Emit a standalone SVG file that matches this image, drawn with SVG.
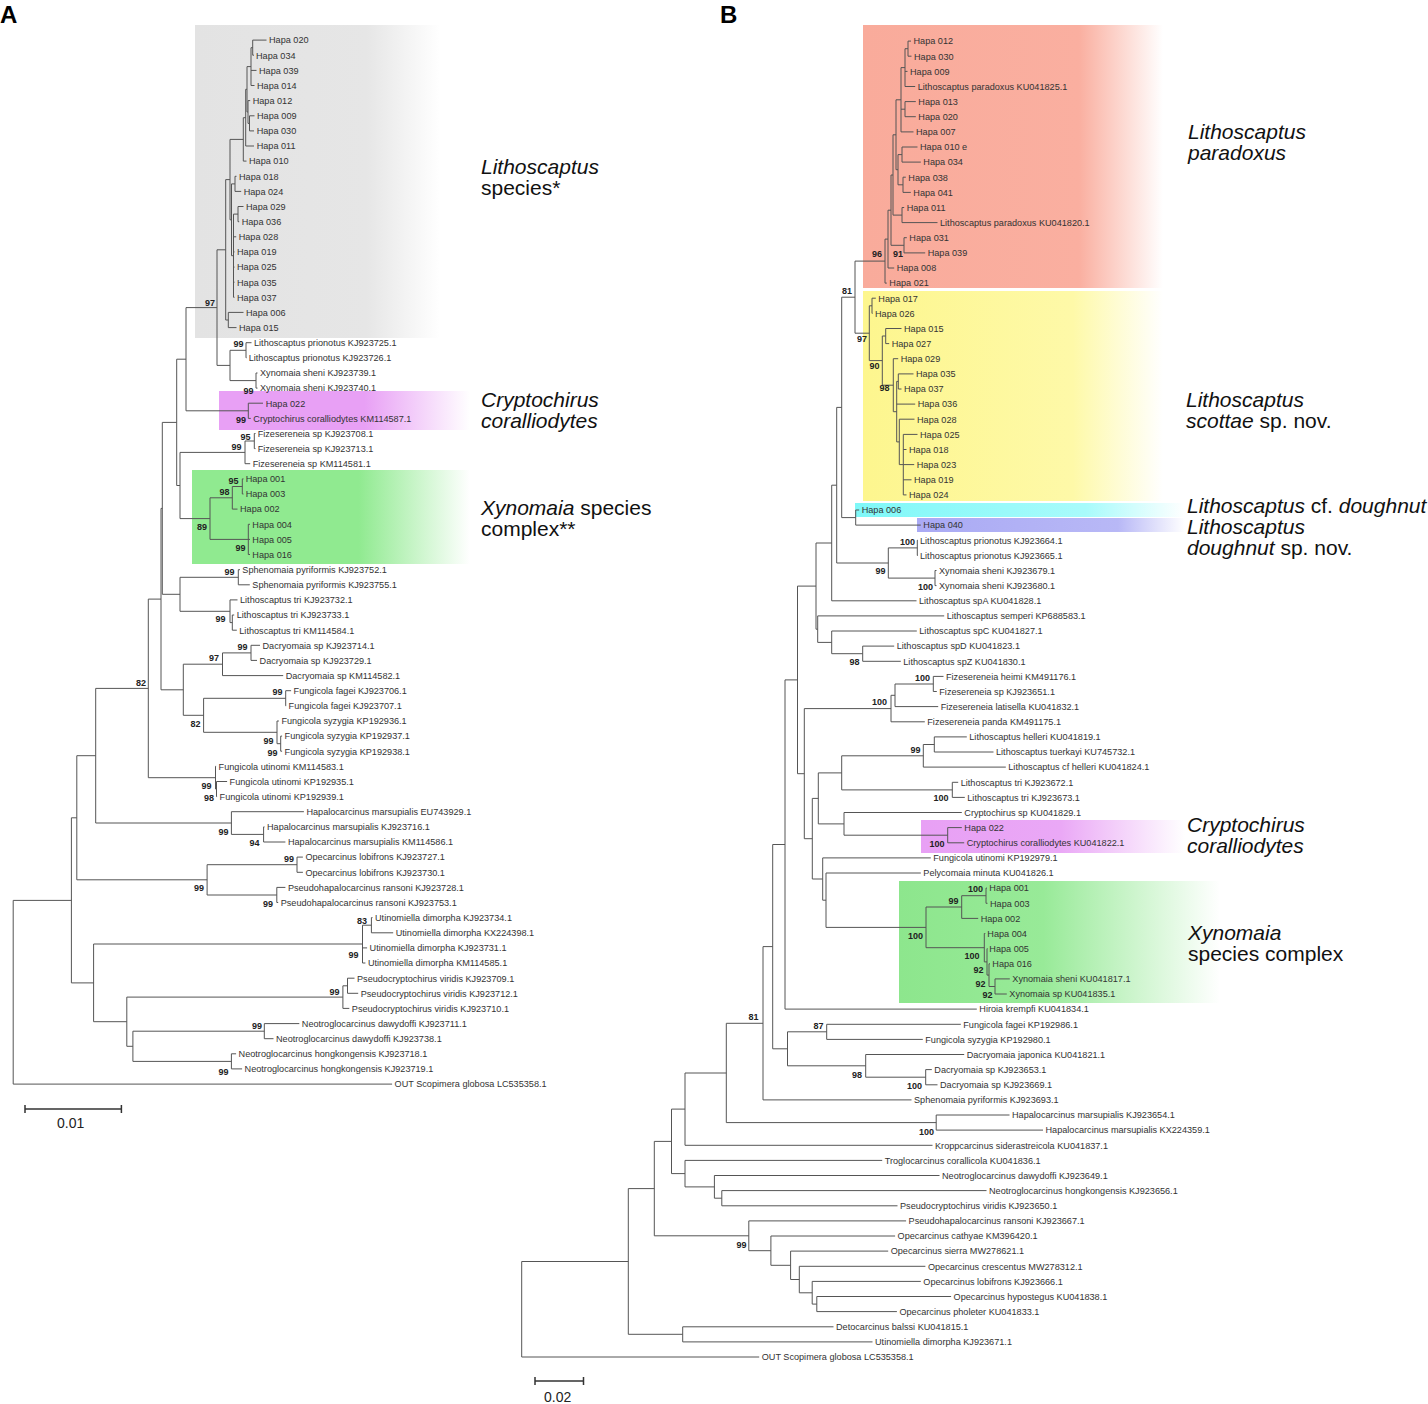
<svg xmlns="http://www.w3.org/2000/svg" width="1428" height="1404" viewBox="0 0 1428 1404">
<style>
.br{fill:none;stroke:#555;stroke-width:1}
.t{font-family:"Liberation Sans",Arial,sans-serif;font-size:9.15px;fill:#333}
.s{font-family:"Liberation Sans",Arial,sans-serif;font-size:9px;font-weight:bold;fill:#222;text-anchor:end}
.g{font-family:"Liberation Sans",Arial,sans-serif;font-size:21px;fill:#111}
.i{font-style:italic}
.p{font-family:"Liberation Sans",Arial,sans-serif;font-size:24px;font-weight:bold;fill:#000}
.sc{font-family:"Liberation Sans",Arial,sans-serif;font-size:14px;fill:#222}
.bar{fill:none;stroke:#333;stroke-width:1.5}
</style>
<defs>
<linearGradient id="gGray" x1="0" x2="1" y1="0" y2="0"><stop offset="0" stop-color="#e3e3e3"/><stop offset="0.7" stop-color="#e6e6e6"/><stop offset="1" stop-color="#fff"/></linearGradient>
<linearGradient id="gPinkA" x1="0" x2="1" y1="0" y2="0"><stop offset="0" stop-color="#e8a0f5"/><stop offset="0.58" stop-color="#e8a0f5"/><stop offset="1" stop-color="#fff"/></linearGradient>
<linearGradient id="gGreenA" x1="0" x2="1" y1="0" y2="0"><stop offset="0" stop-color="#90ea90"/><stop offset="0.6" stop-color="#90ea90"/><stop offset="1" stop-color="#fff"/></linearGradient>
<linearGradient id="gSalmon" x1="0" x2="1" y1="0" y2="0"><stop offset="0" stop-color="#f9ab9b"/><stop offset="0.72" stop-color="#faafa0"/><stop offset="1" stop-color="#fff"/></linearGradient>
<linearGradient id="gYellow" x1="0" x2="1" y1="0" y2="0"><stop offset="0" stop-color="#fdf68e"/><stop offset="0.7" stop-color="#fef9a8"/><stop offset="1" stop-color="#fff"/></linearGradient>
<linearGradient id="gCyan" x1="0" x2="1" y1="0" y2="0"><stop offset="0" stop-color="#7ff8f8"/><stop offset="0.7" stop-color="#a8fbfb"/><stop offset="1" stop-color="#fff"/></linearGradient>
<linearGradient id="gLav" x1="0" x2="1" y1="0" y2="0"><stop offset="0" stop-color="#aaaaf4"/><stop offset="0.75" stop-color="#b8b8f6"/><stop offset="1" stop-color="#fff"/></linearGradient>
<linearGradient id="gPinkB" x1="0" x2="1" y1="0" y2="0"><stop offset="0" stop-color="#e8a0f5"/><stop offset="0.53" stop-color="#eaa8f6"/><stop offset="1" stop-color="#fff"/></linearGradient>
<linearGradient id="gGreenB" x1="0" x2="1" y1="0" y2="0"><stop offset="0" stop-color="#8de68d"/><stop offset="0.45" stop-color="#98ea98"/><stop offset="1" stop-color="#fff"/></linearGradient>
</defs>
<rect width="1428" height="1404" fill="#fff"/>
<g id="clade-highlights">
<rect x="195" y="25" width="245" height="313" fill="url(#gGray)"/>
<rect x="219" y="391" width="251" height="39" fill="url(#gPinkA)"/>
<rect x="192" y="470" width="278" height="94" fill="url(#gGreenA)"/>
<rect x="863" y="25" width="300" height="263" fill="url(#gSalmon)"/>
<rect x="863" y="291" width="300" height="210" fill="url(#gYellow)"/>
<rect x="855" y="503" width="330" height="14" fill="url(#gCyan)"/>
<rect x="917" y="518" width="268" height="14" fill="url(#gLav)"/>
<rect x="921" y="820" width="264" height="33" fill="url(#gPinkB)"/>
<rect x="899" y="881" width="321" height="122" fill="url(#gGreenB)"/>
</g>
<g id="connectors" class="br">
<path d="M252.7 40.1V55.2M252.7 40.1H266.5M252.7 55.2H254"/>
<path d="M251 47.7V85.5M251 47.7H252.7M251 70.4H256.5M251 85.5H254.5"/>
<path d="M249.5 115.8V130.9M249.5 115.8H254.5M249.5 130.9H254"/>
<path d="M248 100.6V123.4M248 100.6H250.2M248 123.4H249.5"/>
<path d="M247 66.6V112M247 66.6H251M247 112H248"/>
<path d="M245.7 89.3V146M245.7 89.3H247M245.7 146H254"/>
<path d="M243.3 117.7V161.1M243.3 117.7H245.7M243.3 161.1H246.5"/>
<path d="M235 176.3V191.4M235 176.3H236.5M235 191.4H241.2"/>
<path d="M238 206.5V221.7M238 206.5H243.5M238 221.7H239.2"/>
<path d="M233.5 214.1V297.3M233.5 214.1H238M233.5 236.8H236.2M233.5 251.9H234.5M233.5 267.1H234.5M233.5 282.2H234.5M233.5 297.3H234.5"/>
<path d="M231.5 183.9V255.7M231.5 183.9H235M231.5 255.7H233.5"/>
<path d="M230 139.4V219.8M230 139.4H243.3M230 219.8H231.5"/>
<path d="M228.3 312.4V327.6M228.3 312.4H243.5M228.3 327.6H236.5"/>
<path d="M225.7 179.6V320M225.7 179.6H230M225.7 320H228.3"/>
<path d="M246 342.7V357.8M246 342.7H251.5M246 357.8H246.5"/>
<path d="M256 373V388.1M256 373H257.5M256 388.1H257.5"/>
<path d="M230 350.3V380.6M230 350.3H246M230 380.6H256"/>
<path d="M217 249.8V365.4M217 249.8H225.7M217 365.4H230"/>
<path d="M248.3 403.2V418.4M248.3 403.2H263M248.3 418.4H250.8"/>
<path d="M186 307.6V410.8M186 307.6H217M186 410.8H248.3"/>
<path d="M254.3 433.5V448.6M254.3 433.5H255.5M254.3 448.6H255.5"/>
<path d="M245 441V463.7M245 441H254.3M245 463.7H250.2"/>
<path d="M242.3 478.9V494M242.3 478.9H243.5M242.3 494H243.5"/>
<path d="M232.3 486.5V509.1M232.3 486.5H242.3M232.3 509.1H237.5"/>
<path d="M248.3 524.3V554.5M248.3 524.3H250M248.3 539.4H250M248.3 554.5H250"/>
<path d="M210 497.8V539.4M210 497.8H232.3M210 539.4H248.3"/>
<path d="M180 452.4V518.6M180 452.4H245M180 518.6H210"/>
<path d="M176.7 359.2V485.5M176.7 359.2H186M176.7 485.5H180"/>
<path d="M238.3 569.7V584.8M238.3 569.7H240M238.3 584.8H249.8"/>
<path d="M232.3 615V630.2M232.3 615H234.2M232.3 630.2H236.8"/>
<path d="M230 599.9V622.6M230 599.9H237.5M230 622.6H232.3"/>
<path d="M180 577.3V611.3M180 577.3H238.3M180 611.3H230"/>
<path d="M162.3 422.4V594.3M162.3 422.4H176.7M162.3 594.3H180"/>
<path d="M251 645.3V660.4M251 645.3H260M251 660.4H257"/>
<path d="M222.5 652.9V675.6M222.5 652.9H251M222.5 675.6H283.2"/>
<path d="M285.7 690.7V705.8M285.7 690.7H291.1M285.7 705.8H286.1"/>
<path d="M280.7 736.1V751.2M280.7 736.1H282.1M280.7 751.2H282.1"/>
<path d="M277 721V743.7M277 721H278.9M277 743.7H280.7"/>
<path d="M203.6 698.3V732.3M203.6 698.3H285.7M203.6 732.3H277"/>
<path d="M183.3 664.2V715.3M183.3 664.2H222.5M183.3 715.3H203.6"/>
<path d="M161 508.4V689.8M161 508.4H162.3M161 689.8H183.3"/>
<path d="M216.5 781.5V796.6M216.5 781.5H227.1M216.5 796.6H217.1"/>
<path d="M215.5 766.3V789M215.5 766.3H216.1M215.5 789H216.5"/>
<path d="M148.3 599.1V777.7M148.3 599.1H161M148.3 777.7H215.5"/>
<path d="M263.6 826.9V842M263.6 826.9H264.5M263.6 842H285.4"/>
<path d="M231.4 811.7V834.4M231.4 811.7H303.9M231.4 834.4H263.6"/>
<path d="M95.7 688.4V823M95.7 688.4H148.3M95.7 823H231.4"/>
<path d="M297 857.1V872.3M297 857.1H302.9M297 872.3H302.9"/>
<path d="M276.8 887.4V902.5M276.8 887.4H285.4M276.8 902.5H278.2"/>
<path d="M207.1 864.7V895M207.1 864.7H297M207.1 895H276.8"/>
<path d="M76.8 755.7V879.8M76.8 755.7H95.7M76.8 879.8H207.1"/>
<path d="M371.4 917.6V932.8M371.4 917.6H372.5M371.4 932.8H393.2"/>
<path d="M362.5 925.2V963M362.5 925.2H371.4M362.5 947.9H367.1M362.5 963H365.4"/>
<path d="M347.5 978.2V993.3M347.5 978.2H354.5M347.5 993.3H358.2"/>
<path d="M342.9 985.8V1008.4M342.9 985.8H347.5M342.9 1008.4H349.3"/>
<path d="M264.3 1023.6V1038.7M264.3 1023.6H299.3M264.3 1038.7H273.5"/>
<path d="M231.4 1053.8V1068.9M231.4 1053.8H236.1M231.4 1068.9H242.1"/>
<path d="M132.9 1031.2V1061.4M132.9 1031.2H264.3M132.9 1061.4H231.4"/>
<path d="M126.8 997.1V1046.3M126.8 997.1H342.9M126.8 1046.3H132.9"/>
<path d="M93.6 944V1021.7M93.6 944H362.5M93.6 1021.7H126.8"/>
<path d="M71.4 817.8V982.9M71.4 817.8H76.8M71.4 982.9H93.6"/>
<path d="M13.2 900.4V1084.1M13.2 900.4H71.4M13.2 1084.1H392.1"/>
<path d="M908 41.1V56.2M908 41.1H911M908 56.2H911.5"/>
<path d="M905 48.7V86.5M905 48.7H908M905 71.4H907.5M905 86.5H915.2"/>
<path d="M905 101.6V116.7M905 101.6H915.8M905 116.7H915.8"/>
<path d="M901 67.6V131.9M901 67.6H905M901 109.2H905M901 131.9H913.5"/>
<path d="M902 147V162.1M902 147H917.5M902 162.1H920.8"/>
<path d="M903 177.2V192.4M903 177.2H905.8M903 192.4H910.8"/>
<path d="M898 154.6V184.8M898 154.6H902M898 184.8H903"/>
<path d="M896 99.8V169.7M896 99.8H901M896 169.7H898"/>
<path d="M902 207.5V222.6M902 207.5H904.2M902 222.6H937.5"/>
<path d="M893 134.8V215.1M893 134.8H896M893 215.1H902"/>
<path d="M904 237.7V252.9M904 237.7H906.8M904 252.9H925.2"/>
<path d="M891 175V245.3M891 175H893M891 245.3H904"/>
<path d="M888 210.2V268M888 210.2H891M888 268H894.2"/>
<path d="M885 239.1V283.1M885 239.1H888M885 283.1H886.8"/>
<path d="M872 298.2V313.4M872 298.2H875.8M872 313.4H872.5"/>
<path d="M885.7 328.5V343.6M885.7 328.5H901.5M885.7 343.6H889.2"/>
<path d="M898.3 373.9V389M898.3 373.9H913.5M898.3 389H901.5"/>
<path d="M903.3 434.4V494.9M903.3 434.4H917.5M903.3 449.5H906.5M903.3 464.6H914.2M903.3 479.8H911.5M903.3 494.9H906.5"/>
<path d="M899.3 419.2V464.6M899.3 419.2H914.5M899.3 464.6H903.3"/>
<path d="M896.7 381.4V441.9M896.7 381.4H898.3M896.7 404.1H915.2M896.7 441.9H899.3"/>
<path d="M893.3 358.7V411.7M893.3 358.7H898.2M893.3 411.7H896.7"/>
<path d="M882.3 336V385.2M882.3 336H885.7M882.3 385.2H893.3"/>
<path d="M869.3 305.8V360.6M869.3 305.8H872M869.3 360.6H882.3"/>
<path d="M855 261.1V333.2M855 261.1H885M855 333.2H869.3"/>
<path d="M855.7 510V525.1M855.7 510H859.2M855.7 525.1H920.8"/>
<path d="M841.7 297.2V517.6M841.7 297.2H855M841.7 517.6H855.7"/>
<path d="M917.3 540.3V555.4M917.3 540.3H918M917.3 555.4H918"/>
<path d="M935 570.5V585.6M935 570.5H936.5M935 585.6H936.5"/>
<path d="M888.3 547.9V578.1M888.3 547.9H917.3M888.3 578.1H935"/>
<path d="M836.7 407.4V563M836.7 407.4H841.7M836.7 563H888.3"/>
<path d="M831.7 485.2V600.8M831.7 485.2H836.7M831.7 600.8H916.5"/>
<path d="M862.7 646.1V661.3M862.7 646.1H894.2M862.7 661.3H900.8"/>
<path d="M831.7 631V653.7M831.7 631H916.8M831.7 653.7H862.7"/>
<path d="M817.7 615.9V642.4M817.7 615.9H944.2M817.7 642.4H831.7"/>
<path d="M816 543V629.2M816 543H831.7M816 629.2H817.7"/>
<path d="M933.3 676.4V691.5M933.3 676.4H943.5M933.3 691.5H936.8"/>
<path d="M895 684V706.6M895 684H933.3M895 706.6H938.2"/>
<path d="M891 695.3V721.8M891 695.3H895M891 721.8H924.8"/>
<path d="M934.3 736.9V752M934.3 736.9H966.8M934.3 752H993.5"/>
<path d="M923.3 744.5V767.1M923.3 744.5H934.3M923.3 767.1H1005.8"/>
<path d="M952.3 782.3V797.4M952.3 782.3H958.2M952.3 797.4H964.8"/>
<path d="M841.7 755.8V789.9M841.7 755.8H923.3M841.7 789.9H952.3"/>
<path d="M947.7 827.6V842.8M947.7 827.6H961.8M947.7 842.8H964.2"/>
<path d="M844 812.5V835.2M844 812.5H961.8M844 835.2H947.7"/>
<path d="M818.3 772.9V823.9M818.3 772.9H841.7M818.3 823.9H844"/>
<path d="M986 888.1V903.3M986 888.1H987M986 903.3H987.5"/>
<path d="M961.7 895.7V918.4M961.7 895.7H986M961.7 918.4H978.2"/>
<path d="M995 978.9V994M995 978.9H1009.8M995 994H1006.8"/>
<path d="M989 963.8V986.5M989 963.8H990M989 986.5H995"/>
<path d="M987 948.6V975.1M987 948.6H987.5M987 975.1H989"/>
<path d="M984.3 933.5V961.9M984.3 933.5H985.3M984.3 961.9H987"/>
<path d="M926 907V947.7M926 907H961.7M926 947.7H984.3"/>
<path d="M826 873V927.4M826 873H920.8M826 927.4H926"/>
<path d="M822.7 857.9V900.2M822.7 857.9H930.8M822.7 900.2H826"/>
<path d="M812.3 798.4V879M812.3 798.4H818.3M812.3 879H822.7"/>
<path d="M804.3 708.6V838.7M804.3 708.6H891M804.3 838.7H812.3"/>
<path d="M797.5 586.1V773.7M797.5 586.1H816M797.5 773.7H804.3"/>
<path d="M785 679.9V1009.1M785 679.9H797.5M785 1009.1H976.8"/>
<path d="M826.7 1024.3V1039.4M826.7 1024.3H960.8M826.7 1039.4H922.8"/>
<path d="M925.7 1069.6V1084.8M925.7 1069.6H931.8M925.7 1084.8H937.5"/>
<path d="M865.7 1054.5V1077.2M865.7 1054.5H964.2M865.7 1077.2H925.7"/>
<path d="M787.5 1031.8V1065.8M787.5 1031.8H826.7M787.5 1065.8H865.7"/>
<path d="M772.7 844.5V1048.8M772.7 844.5H785M772.7 1048.8H787.5"/>
<path d="M763 946.6V1099.9M763 946.6H772.7M763 1099.9H911.5"/>
<path d="M936.2 1115V1130.1M936.2 1115H1009.5M936.2 1130.1H1043"/>
<path d="M726.3 1023.3V1122.6M726.3 1023.3H763M726.3 1122.6H936.2"/>
<path d="M685 1073V1145.3M685 1073H726.3M685 1145.3H932.5"/>
<path d="M721.8 1190.6V1205.8M721.8 1190.6H986.5M721.8 1205.8H897.5"/>
<path d="M714.4 1175.5V1198.2M714.4 1175.5H939.5M714.4 1198.2H721.8"/>
<path d="M685 1160.4V1186.9M685 1160.4H882.2M685 1186.9H714.4"/>
<path d="M671.5 1109.1V1173.6M671.5 1109.1H685M671.5 1173.6H685"/>
<path d="M816.8 1296.5V1311.6M816.8 1296.5H951.1M816.8 1311.6H896.9"/>
<path d="M812.2 1281.4V1304.1M812.2 1281.4H920.8M812.2 1304.1H816.8"/>
<path d="M799.3 1266.3V1292.8M799.3 1266.3H925.4M799.3 1292.8H812.2"/>
<path d="M790.6 1251.1V1279.5M790.6 1251.1H888.2M790.6 1279.5H799.3"/>
<path d="M770.9 1236V1265.3M770.9 1236H895.1M770.9 1265.3H790.6"/>
<path d="M748.8 1220.9V1250.7M748.8 1220.9H906.1M748.8 1250.7H770.9"/>
<path d="M654.3 1141.4V1235.8M654.3 1141.4H671.5M654.3 1235.8H748.8"/>
<path d="M682.7 1326.8V1341.9M682.7 1326.8H833.5M682.7 1341.9H872.5"/>
<path d="M628.3 1188.6V1334.3M628.3 1188.6H654.3M628.3 1334.3H682.7"/>
<path d="M521.7 1261.5V1357M521.7 1261.5H628.3M521.7 1357H759.2"/>
</g>
<g id="support-values">
<text class="s" x="215" y="305.5">97</text>
<text class="s" x="243.5" y="347">99</text>
<text class="s" x="253.5" y="393.5">99</text>
<text class="s" x="246" y="422.5">99</text>
<text class="s" x="250.5" y="439.5">95</text>
<text class="s" x="241.5" y="450">99</text>
<text class="s" x="238.5" y="484">95</text>
<text class="s" x="229.5" y="495">98</text>
<text class="s" x="207" y="530">89</text>
<text class="s" x="245.5" y="551">99</text>
<text class="s" x="234.5" y="574.5">99</text>
<text class="s" x="225.5" y="622">99</text>
<text class="s" x="247.5" y="650">99</text>
<text class="s" x="219" y="661">97</text>
<text class="s" x="282.5" y="695">99</text>
<text class="s" x="200.5" y="727">82</text>
<text class="s" x="273.5" y="743.5">99</text>
<text class="s" x="277.5" y="756">99</text>
<text class="s" x="146" y="686">82</text>
<text class="s" x="211.5" y="789">99</text>
<text class="s" x="214" y="800.5">98</text>
<text class="s" x="228.5" y="834.5">99</text>
<text class="s" x="259.5" y="846">94</text>
<text class="s" x="294" y="861.5">99</text>
<text class="s" x="204" y="891">99</text>
<text class="s" x="273" y="907">99</text>
<text class="s" x="367" y="923.5">83</text>
<text class="s" x="358.5" y="957.5">99</text>
<text class="s" x="339.5" y="995">99</text>
<text class="s" x="262" y="1028.5">99</text>
<text class="s" x="228.5" y="1074.5">99</text>
<text class="s" x="882" y="257">96</text>
<text class="s" x="903" y="257">91</text>
<text class="s" x="852" y="293.5">81</text>
<text class="s" x="867" y="342">97</text>
<text class="s" x="879.5" y="369">90</text>
<text class="s" x="889.5" y="391">98</text>
<text class="s" x="915" y="545">100</text>
<text class="s" x="885.5" y="574">99</text>
<text class="s" x="933" y="590">100</text>
<text class="s" x="859.5" y="665">98</text>
<text class="s" x="930" y="681">100</text>
<text class="s" x="887" y="705">100</text>
<text class="s" x="920.5" y="752.5">99</text>
<text class="s" x="948.5" y="801">100</text>
<text class="s" x="944.5" y="846.5">100</text>
<text class="s" x="983" y="892">100</text>
<text class="s" x="958.5" y="904">99</text>
<text class="s" x="923" y="939">100</text>
<text class="s" x="979.5" y="959">100</text>
<text class="s" x="983.5" y="972.5">92</text>
<text class="s" x="985.5" y="986.5">92</text>
<text class="s" x="992.5" y="997.5">92</text>
<text class="s" x="823.5" y="1029">87</text>
<text class="s" x="862" y="1077.5">98</text>
<text class="s" x="922" y="1089">100</text>
<text class="s" x="758.5" y="1019.5">81</text>
<text class="s" x="934" y="1134.5">100</text>
<text class="s" x="746.5" y="1247.5">99</text>
</g>
<g id="tree-a-leaves" class="t">
<g id="a01"><text x="269" y="43.4">Hapa 020</text></g>
<g id="a02"><text x="256" y="58.5">Hapa 034</text></g>
<g id="a03"><text x="259" y="73.7">Hapa 039</text></g>
<g id="a04"><text x="257" y="88.8">Hapa 014</text></g>
<g id="a05"><text x="252.7" y="103.9">Hapa 012</text></g>
<g id="a06"><text x="257" y="119.1">Hapa 009</text></g>
<g id="a07"><text x="256.7" y="134.2">Hapa 030</text></g>
<g id="a08"><text x="256.7" y="149.3">Hapa 011</text></g>
<g id="a09"><text x="249" y="164.4">Hapa 010</text></g>
<g id="a10"><text x="239" y="179.6">Hapa 018</text></g>
<g id="a11"><text x="243.7" y="194.7">Hapa 024</text></g>
<g id="a12"><text x="246" y="209.8">Hapa 029</text></g>
<g id="a13"><text x="241.7" y="225">Hapa 036</text></g>
<g id="a14"><text x="238.7" y="240.1">Hapa 028</text></g>
<g id="a15"><text x="237" y="255.2">Hapa 019</text></g>
<g id="a16"><text x="237" y="270.4">Hapa 025</text></g>
<g id="a17"><text x="237" y="285.5">Hapa 035</text></g>
<g id="a18"><text x="237" y="300.6">Hapa 037</text></g>
<g id="a19"><text x="246" y="315.7">Hapa 006</text></g>
<g id="a20"><text x="239" y="330.9">Hapa 015</text></g>
<g id="a21"><text x="254" y="346">Lithoscaptus prionotus KJ923725.1</text></g>
<g id="a22"><text x="248.7" y="361.1">Lithoscaptus prionotus KJ923726.1</text></g>
<g id="a23"><text x="260" y="376.3">Xynomaia sheni KJ923739.1</text></g>
<g id="a24"><text x="260" y="391.4">Xynomaia sheni KJ923740.1</text></g>
<g id="a25"><text x="265.7" y="406.5">Hapa 022</text></g>
<g id="a26"><text x="253.3" y="421.7">Cryptochirus coralliodytes KM114587.1</text></g>
<g id="a27"><text x="257.7" y="436.8">Fizesereneia sp KJ923708.1</text></g>
<g id="a28"><text x="257.7" y="451.9">Fizesereneia sp KJ923713.1</text></g>
<g id="a29"><text x="252.7" y="467">Fizesereneia sp KM114581.1</text></g>
<g id="a30"><text x="245.7" y="482.2">Hapa 001</text></g>
<g id="a31"><text x="245.7" y="497.3">Hapa 003</text></g>
<g id="a32"><text x="240" y="512.4">Hapa 002</text></g>
<g id="a33"><text x="252.3" y="527.6">Hapa 004</text></g>
<g id="a34"><text x="252.3" y="542.7">Hapa 005</text></g>
<g id="a35"><text x="252.3" y="557.8">Hapa 016</text></g>
<g id="a36"><text x="242.3" y="573">Sphenomaia pyriformis KJ923752.1</text></g>
<g id="a37"><text x="252.3" y="588.1">Sphenomaia pyriformis KJ923755.1</text></g>
<g id="a38"><text x="240" y="603.2">Lithoscaptus tri KJ923732.1</text></g>
<g id="a39"><text x="236.7" y="618.3">Lithoscaptus tri KJ923733.1</text></g>
<g id="a40"><text x="239.3" y="633.5">Lithoscaptus tri KM114584.1</text></g>
<g id="a41"><text x="262.5" y="648.6">Dacryomaia sp KJ923714.1</text></g>
<g id="a42"><text x="259.6" y="663.7">Dacryomaia sp KJ923729.1</text></g>
<g id="a43"><text x="285.7" y="678.9">Dacryomaia sp KM114582.1</text></g>
<g id="a44"><text x="293.6" y="694">Fungicola fagei KJ923706.1</text></g>
<g id="a45"><text x="288.6" y="709.1">Fungicola fagei KJ923707.1</text></g>
<g id="a46"><text x="281.4" y="724.3">Fungicola syzygia KP192936.1</text></g>
<g id="a47"><text x="284.6" y="739.4">Fungicola syzygia KP192937.1</text></g>
<g id="a48"><text x="284.6" y="754.5">Fungicola syzygia KP192938.1</text></g>
<g id="a49"><text x="218.6" y="769.6">Fungicola utinomi KM114583.1</text></g>
<g id="a50"><text x="229.6" y="784.8">Fungicola utinomi KP192935.1</text></g>
<g id="a51"><text x="219.6" y="799.9">Fungicola utinomi KP192939.1</text></g>
<g id="a52"><text x="306.4" y="815">Hapalocarcinus marsupialis EU743929.1</text></g>
<g id="a53"><text x="267" y="830.2">Hapalocarcinus marsupialis KJ923716.1</text></g>
<g id="a54"><text x="287.9" y="845.3">Hapalocarcinus marsupialis KM114586.1</text></g>
<g id="a55"><text x="305.4" y="860.4">Opecarcinus lobifrons KJ923727.1</text></g>
<g id="a56"><text x="305.4" y="875.6">Opecarcinus lobifrons KJ923730.1</text></g>
<g id="a57"><text x="287.9" y="890.7">Pseudohapalocarcinus ransoni KJ923728.1</text></g>
<g id="a58"><text x="280.7" y="905.8">Pseudohapalocarcinus ransoni KJ923753.1</text></g>
<g id="a59"><text x="375" y="920.9">Utinomiella dimorpha KJ923734.1</text></g>
<g id="a60"><text x="395.7" y="936.1">Utinomiella dimorpha KX224398.1</text></g>
<g id="a61"><text x="369.6" y="951.2">Utinomiella dimorpha KJ923731.1</text></g>
<g id="a62"><text x="367.9" y="966.3">Utinomiella dimorpha KM114585.1</text></g>
<g id="a63"><text x="357" y="981.5">Pseudocryptochirus viridis KJ923709.1</text></g>
<g id="a64"><text x="360.7" y="996.6">Pseudocryptochirus viridis KJ923712.1</text></g>
<g id="a65"><text x="351.8" y="1011.7">Pseudocryptochirus viridis KJ923710.1</text></g>
<g id="a66"><text x="301.8" y="1026.9">Neotroglocarcinus dawydoffi KJ923711.1</text></g>
<g id="a67"><text x="276" y="1042">Neotroglocarcinus dawydoffi KJ923738.1</text></g>
<g id="a68"><text x="238.6" y="1057.1">Neotroglocarcinus hongkongensis KJ923718.1</text></g>
<g id="a69"><text x="244.6" y="1072.2">Neotroglocarcinus hongkongensis KJ923719.1</text></g>
<g id="a70"><text x="394.6" y="1087.4">OUT Scopimera globosa LC535358.1</text></g>
</g>
<g id="tree-b-leaves" class="t">
<g id="b01"><text x="913.5" y="44.4">Hapa 012</text></g>
<g id="b02"><text x="914" y="59.5">Hapa 030</text></g>
<g id="b03"><text x="910" y="74.7">Hapa 009</text></g>
<g id="b04"><text x="917.7" y="89.8">Lithoscaptus paradoxus KU041825.1</text></g>
<g id="b05"><text x="918.3" y="104.9">Hapa 013</text></g>
<g id="b06"><text x="918.3" y="120">Hapa 020</text></g>
<g id="b07"><text x="916" y="135.2">Hapa 007</text></g>
<g id="b08"><text x="920" y="150.3">Hapa 010 e</text></g>
<g id="b09"><text x="923.3" y="165.4">Hapa 034</text></g>
<g id="b10"><text x="908.3" y="180.5">Hapa 038</text></g>
<g id="b11"><text x="913.3" y="195.7">Hapa 041</text></g>
<g id="b12"><text x="906.7" y="210.8">Hapa 011</text></g>
<g id="b13"><text x="940" y="225.9">Lithoscaptus paradoxus KU041820.1</text></g>
<g id="b14"><text x="909.3" y="241">Hapa 031</text></g>
<g id="b15"><text x="927.7" y="256.2">Hapa 039</text></g>
<g id="b16"><text x="896.7" y="271.3">Hapa 008</text></g>
<g id="b17"><text x="889.3" y="286.4">Hapa 021</text></g>
<g id="b18"><text x="878.3" y="301.5">Hapa 017</text></g>
<g id="b19"><text x="875" y="316.7">Hapa 026</text></g>
<g id="b20"><text x="904" y="331.8">Hapa 015</text></g>
<g id="b21"><text x="891.7" y="346.9">Hapa 027</text></g>
<g id="b22"><text x="900.7" y="362">Hapa 029</text></g>
<g id="b23"><text x="916" y="377.2">Hapa 035</text></g>
<g id="b24"><text x="904" y="392.3">Hapa 037</text></g>
<g id="b25"><text x="917.7" y="407.4">Hapa 036</text></g>
<g id="b26"><text x="917" y="422.5">Hapa 028</text></g>
<g id="b27"><text x="920" y="437.7">Hapa 025</text></g>
<g id="b28"><text x="909" y="452.8">Hapa 018</text></g>
<g id="b29"><text x="916.7" y="467.9">Hapa 023</text></g>
<g id="b30"><text x="914" y="483.1">Hapa 019</text></g>
<g id="b31"><text x="909" y="498.2">Hapa 024</text></g>
<g id="b32"><text x="861.7" y="513.3">Hapa 006</text></g>
<g id="b33"><text x="923.3" y="528.4">Hapa 040</text></g>
<g id="b34"><text x="920" y="543.6">Lithoscaptus prionotus KJ923664.1</text></g>
<g id="b35"><text x="920" y="558.7">Lithoscaptus prionotus KJ923665.1</text></g>
<g id="b36"><text x="939" y="573.8">Xynomaia sheni KJ923679.1</text></g>
<g id="b37"><text x="939" y="588.9">Xynomaia sheni KJ923680.1</text></g>
<g id="b38"><text x="919" y="604.1">Lithoscaptus spA KU041828.1</text></g>
<g id="b39"><text x="946.7" y="619.2">Lithoscaptus semperi KP688583.1</text></g>
<g id="b40"><text x="919.3" y="634.3">Lithoscaptus spC KU041827.1</text></g>
<g id="b41"><text x="896.7" y="649.4">Lithoscaptus spD KU041823.1</text></g>
<g id="b42"><text x="903.3" y="664.6">Lithoscaptus spZ KU041830.1</text></g>
<g id="b43"><text x="946" y="679.7">Fizesereneia heimi KM491176.1</text></g>
<g id="b44"><text x="939.3" y="694.8">Fizesereneia sp KJ923651.1</text></g>
<g id="b45"><text x="940.7" y="709.9">Fizesereneia latisella KU041832.1</text></g>
<g id="b46"><text x="927.3" y="725.1">Fizesereneia panda KM491175.1</text></g>
<g id="b47"><text x="969.3" y="740.2">Lithoscaptus helleri KU041819.1</text></g>
<g id="b48"><text x="996" y="755.3">Lithoscaptus tuerkayi KU745732.1</text></g>
<g id="b49"><text x="1008.3" y="770.4">Lithoscaptus cf helleri KU041824.1</text></g>
<g id="b50"><text x="960.7" y="785.6">Lithoscaptus tri KJ923672.1</text></g>
<g id="b51"><text x="967.3" y="800.7">Lithoscaptus tri KJ923673.1</text></g>
<g id="b52"><text x="964.3" y="815.8">Cryptochirus sp KU041829.1</text></g>
<g id="b53"><text x="964.3" y="830.9">Hapa 022</text></g>
<g id="b54"><text x="966.7" y="846.1">Cryptochirus coralliodytes KU041822.1</text></g>
<g id="b55"><text x="933.3" y="861.2">Fungicola utinomi KP192979.1</text></g>
<g id="b56"><text x="923.3" y="876.3">Pelycomaia minuta KU041826.1</text></g>
<g id="b57"><text x="989.3" y="891.4">Hapa 001</text></g>
<g id="b58"><text x="990" y="906.6">Hapa 003</text></g>
<g id="b59"><text x="980.7" y="921.7">Hapa 002</text></g>
<g id="b60"><text x="987.3" y="936.8">Hapa 004</text></g>
<g id="b61"><text x="989.3" y="951.9">Hapa 005</text></g>
<g id="b62"><text x="992.3" y="967.1">Hapa 016</text></g>
<g id="b63"><text x="1012.3" y="982.2">Xynomaia sheni KU041817.1</text></g>
<g id="b64"><text x="1009.3" y="997.3">Xynomaia sp KU041835.1</text></g>
<g id="b65"><text x="979.3" y="1012.4">Hiroia krempfi KU041834.1</text></g>
<g id="b66"><text x="963.3" y="1027.6">Fungicola fagei KP192986.1</text></g>
<g id="b67"><text x="925.3" y="1042.7">Fungicola syzygia KP192980.1</text></g>
<g id="b68"><text x="966.7" y="1057.8">Dacryomaia japonica KU041821.1</text></g>
<g id="b69"><text x="934.3" y="1072.9">Dacryomaia sp KJ923653.1</text></g>
<g id="b70"><text x="940" y="1088.1">Dacryomaia sp KJ923669.1</text></g>
<g id="b71"><text x="914" y="1103.2">Sphenomaia pyriformis KJ923693.1</text></g>
<g id="b72"><text x="1012" y="1118.3">Hapalocarcinus marsupialis KJ923654.1</text></g>
<g id="b73"><text x="1045.5" y="1133.4">Hapalocarcinus marsupialis KX224359.1</text></g>
<g id="b74"><text x="935" y="1148.6">Kroppcarcinus siderastreicola KU041837.1</text></g>
<g id="b75"><text x="884.7" y="1163.7">Troglocarcinus corallicola KU041836.1</text></g>
<g id="b76"><text x="942" y="1178.8">Neotroglocarcinus dawydoffi KJ923649.1</text></g>
<g id="b77"><text x="989" y="1193.9">Neotroglocarcinus hongkongensis KJ923656.1</text></g>
<g id="b78"><text x="900" y="1209.1">Pseudocryptochirus viridis KJ923650.1</text></g>
<g id="b79"><text x="908.6" y="1224.2">Pseudohapalocarcinus ransoni KJ923667.1</text></g>
<g id="b80"><text x="897.6" y="1239.3">Opecarcinus cathyae KM396420.1</text></g>
<g id="b81"><text x="890.7" y="1254.4">Opecarcinus sierra MW278621.1</text></g>
<g id="b82"><text x="927.9" y="1269.6">Opecarcinus crescentus MW278312.1</text></g>
<g id="b83"><text x="923.3" y="1284.7">Opecarcinus lobifrons KJ923666.1</text></g>
<g id="b84"><text x="953.6" y="1299.8">Opecarcinus hypostegus KU041838.1</text></g>
<g id="b85"><text x="899.4" y="1314.9">Opecarcinus pholeter KU041833.1</text></g>
<g id="b86"><text x="836" y="1330.1">Detocarcinus balssi KU041815.1</text></g>
<g id="b87"><text x="875" y="1345.2">Utinomiella dimorpha KJ923671.1</text></g>
<g id="b88"><text x="761.7" y="1360.3">OUT Scopimera globosa LC535358.1</text></g>
</g>
<g id="group-labels" class="g">
<text x="481" y="174"><tspan class="i">Lithoscaptus</tspan></text>
<text x="481" y="195">species*</text>
<text x="481" y="407"><tspan class="i">Cryptochirus</tspan></text>
<text x="481" y="428"><tspan class="i">coralliodytes</tspan></text>
<text x="481" y="515"><tspan class="i">Xynomaia</tspan> species</text>
<text x="481" y="536">complex**</text>
<text x="1188" y="139"><tspan class="i">Lithoscaptus</tspan></text>
<text x="1188" y="160"><tspan class="i">paradoxus</tspan></text>
<text x="1186" y="407"><tspan class="i">Lithoscaptus</tspan></text>
<text x="1186" y="428"><tspan class="i">scottae</tspan> sp. nov.</text>
<text x="1187" y="512.5"><tspan class="i">Lithoscaptus</tspan> cf. <tspan class="i">doughnut</tspan></text>
<text x="1187" y="534"><tspan class="i">Lithoscaptus</tspan></text>
<text x="1187" y="555"><tspan class="i">doughnut</tspan> sp. nov.</text>
<text x="1187" y="832"><tspan class="i">Cryptochirus</tspan></text>
<text x="1187" y="853"><tspan class="i">coralliodytes</tspan></text>
<text x="1188" y="940"><tspan class="i">Xynomaia</tspan></text>
<text x="1188" y="961">species complex</text>
</g>
<g id="panel-letters" class="p">
<text x="0" y="23">A</text>
<text x="720" y="23">B</text>
</g>
<g id="scale-bars">
<path class="bar" d="M25 1109H121.4M25 1105V1113M121.4 1105V1113"/>
<text class="sc" x="57" y="1128">0.01</text>
<path class="bar" d="M535 1381H583.5M535 1377V1385M583.5 1377V1385"/>
<text class="sc" x="544" y="1402">0.02</text>
</g>
</svg>
